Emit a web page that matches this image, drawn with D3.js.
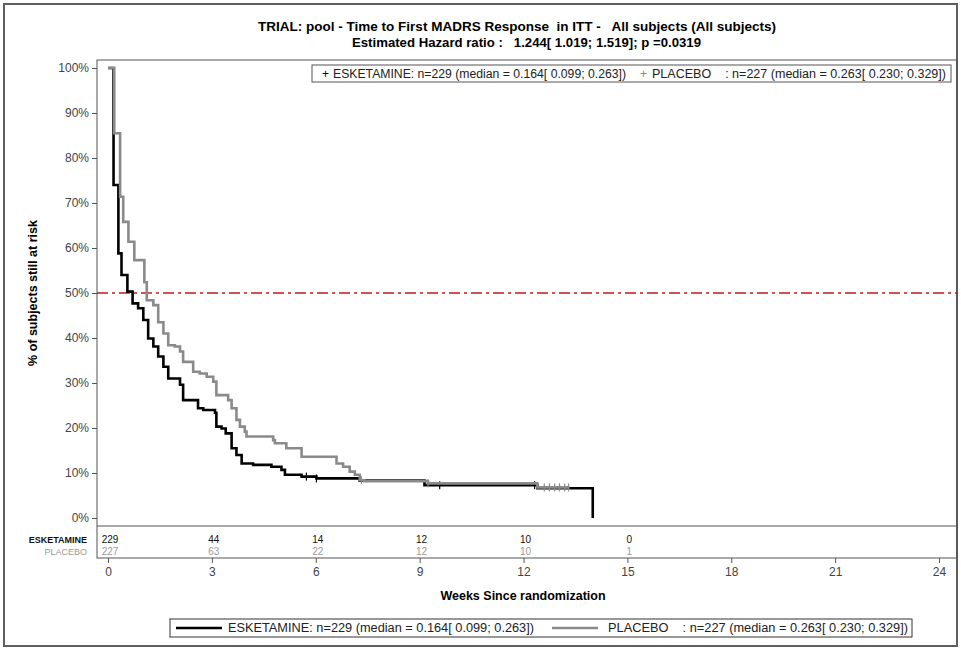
<!DOCTYPE html>
<html><head><meta charset="utf-8">
<script src="https://cdn.jsdelivr.net/npm/d3@7"></script>
<style>body{margin:0;background:#fff;} svg{display:block;} text{white-space:pre;}</style>
</head><body><svg id="c" width="961" height="650"></svg>
<script>
// ---------------- data ----------------
const titleLines = ["TRIAL: pool - Time to First MADRS Response  in ITT -   All subjects (All subjects)",
                    "Estimated Hazard ratio :   1.244[ 1.019; 1.519]; p =0.0319"];
const seriesNames = ["ESKETAMINE", "PLACEBO"];
const legendLabels = ["ESKETAMINE: n=229 (median = 0.164[ 0.099; 0.263])",
                      "PLACEBO    : n=227 (median = 0.263[ 0.230; 0.329])"];
const esketWeeks = [0, 0.16, 0.30, 0.39, 0.56, 0.71, 0.87, 1.02, 1.16, 1.31, 1.45, 1.60, 1.74, 2.08, 2.17, 2.60, 2.75, 3.09, 3.13, 3.28, 3.40, 3.57, 3.71, 3.86, 4.19, 4.72, 5.01, 5.11, 5.59, 6.02, 7.27, 9.14, 12.40, 14.00];
const esketSurv  = [100, 74.0, 58.8, 54.0, 50.3, 47.7, 46.6, 44.0, 39.9, 38.1, 35.9, 33.6, 31.0, 29.6, 26.2, 24.4, 24.0, 23.4, 20.3, 19.9, 18.8, 15.5, 14.0, 12.1, 11.8, 11.4, 10.7, 9.6, 9.2, 8.8, 8.3, 7.3, 6.6, 0];
const placeboWeeks = [0, 0.18, 0.35, 0.44, 0.59, 0.76, 1.05, 1.12, 1.31, 1.45, 1.60, 1.74, 1.93, 2.08, 2.17, 2.46, 2.65, 2.85, 3.04, 3.13, 3.47, 3.57, 3.71, 3.81, 3.95, 4.00, 4.77, 4.82, 5.15, 5.59, 6.60, 6.79, 6.98, 7.13, 7.27, 7.40, 9.24, 12.40, 13.33];
const placeboSurv  = [100, 85.5, 71.4, 65.8, 61.4, 57.3, 52.4, 48.4, 47.3, 43.5, 41.0, 38.4, 38.1, 37.0, 34.7, 32.5, 32.1, 31.4, 30.3, 27.3, 26.2, 24.4, 21.8, 20.3, 19.2, 18.1, 17.3, 16.6, 15.5, 13.6, 12.1, 11.4, 10.3, 9.6, 8.4, 8.2, 7.7, 6.8, 6.8];
const esketCensorWeeks = [5.73, 6.02, 9.58, 12.32];
const placeboCensorWeeks = [7.32, 9.24, 12.60, 12.75, 12.90, 13.04, 13.19, 13.30];
const riskTimes = [0, 3, 6, 9, 12, 15];
const esketRisk = [229, 44, 14, 12, 10, 0];
const placeboRisk = [227, 63, 22, 12, 10, 1];
const xTicks = [0, 3, 6, 9, 12, 15, 18, 21, 24];
const yTicks = [0, 10, 20, 30, 40, 50, 60, 70, 80, 90, 100];
const refLevel = 50;
const xTitle = "Weeks Since randomization";
const yTitle = "% of subjects still at risk";

// ---------------- layout ----------------
const FONT = "'Liberation Sans', Arial, sans-serif";
const NARROW = "'Liberation Sans Narrow', 'Arial Narrow', 'Liberation Sans', sans-serif";
const L = 97, R = 957, T = 60, SEP = 526, AX = 558;
const x = d3.scaleLinear().domain([0, 24]).range([108, 939]);
const y = d3.scaleLinear().domain([0, 100]).range([518, 68]);
const BLACK = "#000", GRAY = "#8a8a8a";

const svg = d3.select("#c");
svg.append("rect").attr("x", 4).attr("y", 4).attr("width", 953).attr("height", 642)
  .attr("fill", "#fff").attr("stroke", "#5f5f5f").attr("stroke-width", 2);

// titles
svg.append("text").attr("x", 258).attr("y", 31).attr("textLength", 518).attr("lengthAdjust", "spacingAndGlyphs")
  .attr("font-family", FONT).attr("font-weight", "bold").attr("font-size", 12.5).text(titleLines[0]);
svg.append("text").attr("x", 352).attr("y", 47).attr("textLength", 349).attr("lengthAdjust", "spacingAndGlyphs")
  .attr("font-family", FONT).attr("font-weight", "bold").attr("font-size", 12.5).text(titleLines[1]);

// plot frame
svg.append("rect").attr("x", L).attr("y", T).attr("width", R - L).attr("height", AX - T)
  .attr("fill", "none").attr("stroke", "#555").attr("stroke-width", 1);
svg.append("line").attr("x1", L).attr("x2", R).attr("y1", SEP).attr("y2", SEP).attr("stroke", "#555");

// axes
const ya = svg.append("g").attr("transform", `translate(${L},0)`)
  .call(d3.axisLeft(y).tickValues(yTicks).tickFormat(d => d + "%").tickSize(5).tickPadding(3));
ya.select(".domain").remove();
ya.selectAll("text").attr("font-family", FONT).attr("font-size", 12).attr("fill", "#444");
ya.selectAll("line").attr("stroke", "#555");
const xa = svg.append("g").attr("transform", `translate(0,${AX})`)
  .call(d3.axisBottom(x).tickValues(xTicks).tickSize(5).tickPadding(4));
xa.select(".domain").remove();
xa.selectAll("text").attr("font-family", FONT).attr("font-size", 12).attr("fill", "#444");
xa.selectAll("line").attr("stroke", "#555");

svg.append("text").attr("x", 523).attr("y", 600).attr("text-anchor", "middle")
  .attr("font-family", FONT).attr("font-weight", "bold").attr("font-size", 12.5).text(xTitle);
svg.append("text").attr("transform", `translate(37,${y(50)}) rotate(-90)`).attr("text-anchor", "middle")
  .attr("font-family", FONT).attr("font-weight", "bold").attr("font-size", 12.5).text(yTitle);

// reference line
svg.append("line").attr("x1", L).attr("x2", R).attr("y1", y(refLevel)).attr("y2", y(refLevel))
  .attr("stroke", "#c41818").attr("stroke-width", 1.3).attr("stroke-dasharray", "11,4,3,4");

// curves
const line = d3.line().x(d => x(d[0])).y(d => y(d[1])).curve(d3.curveStepAfter);
const series = [
  {w: esketWeeks, s: esketSurv, c: esketCensorWeeks, color: BLACK, width: 2.6},
  {w: placeboWeeks, s: placeboSurv, c: placeboCensorWeeks, color: GRAY, width: 2.6}
];
series.forEach(sr => {
  const pts = sr.w.map((t, i) => [t, sr.s[i]]);
  svg.append("path").attr("d", line(pts)).attr("fill", "none").attr("stroke", sr.color)
    .attr("stroke-width", sr.width).attr("stroke-linejoin", "miter");
  const bis = d3.bisector(d => d).right;
  sr.c.forEach(t => {
    const i = Math.max(0, bis(sr.w, t) - 1);
    const yy = y(sr.s[i]);
    svg.append("line").attr("x1", x(t)).attr("x2", x(t)).attr("y1", yy - 4).attr("y2", yy + 4)
      .attr("stroke", sr.color).attr("stroke-width", 1.2);
  });
});

// risk table
svg.append("text").attr("x", 87).attr("y", 543).attr("text-anchor", "end").attr("font-family", NARROW)
  .attr("font-weight", "bold").attr("font-size", 9).attr("fill", "#111").text(seriesNames[0]);
svg.append("text").attr("x", 87).attr("y", 555).attr("text-anchor", "end").attr("font-family", NARROW)
  .attr("font-size", 9).attr("fill", "#999").text(seriesNames[1]);
riskTimes.forEach((t, i) => {
  svg.append("text").attr("x", x(t) + 2).attr("y", 543).attr("text-anchor", "middle").attr("font-family", NARROW)
    .attr("font-size", 10).attr("fill", "#111").text(esketRisk[i]);
  svg.append("text").attr("x", x(t) + 2).attr("y", 555).attr("text-anchor", "middle").attr("font-family", NARROW)
    .attr("font-size", 10).attr("fill", "#999").text(placeboRisk[i]);
});

// top legend
svg.append("rect").attr("x", 312).attr("y", 65).attr("width", 639).attr("height", 17)
  .attr("fill", "#fff").attr("stroke", "#555");
svg.append("text").attr("x", 322).attr("y", 78).attr("font-family", FONT).attr("font-size", 12).attr("fill", BLACK).text("+");
svg.append("text").attr("x", 333).attr("y", 78).attr("textLength", 293).attr("lengthAdjust", "spacingAndGlyphs")
  .attr("font-family", NARROW).attr("font-size", 12).attr("fill", "#222").text(legendLabels[0]);
svg.append("text").attr("x", 640).attr("y", 78).attr("font-family", FONT).attr("font-size", 12).attr("fill", GRAY).text("+");
svg.append("text").attr("x", 652).attr("y", 78).attr("textLength", 294).attr("lengthAdjust", "spacingAndGlyphs")
  .attr("font-family", NARROW).attr("font-size", 12).attr("fill", "#222").text(legendLabels[1]);

// bottom legend
svg.append("rect").attr("x", 170).attr("y", 619).attr("width", 742).attr("height", 18)
  .attr("fill", "#fff").attr("stroke", "#333");
svg.append("line").attr("x1", 176).attr("x2", 222).attr("y1", 628).attr("y2", 628).attr("stroke", BLACK).attr("stroke-width", 2.6);
svg.append("text").attr("x", 228).attr("y", 632).attr("textLength", 306).attr("lengthAdjust", "spacingAndGlyphs")
  .attr("font-family", NARROW).attr("font-size", 12).attr("fill", "#222").text(legendLabels[0]);
svg.append("line").attr("x1", 552).attr("x2", 598).attr("y1", 628).attr("y2", 628).attr("stroke", GRAY).attr("stroke-width", 2.6);
svg.append("text").attr("x", 608).attr("y", 632).attr("textLength", 300).attr("lengthAdjust", "spacingAndGlyphs")
  .attr("font-family", NARROW).attr("font-size", 12).attr("fill", "#222").text(legendLabels[1]);
</script></body></html>
